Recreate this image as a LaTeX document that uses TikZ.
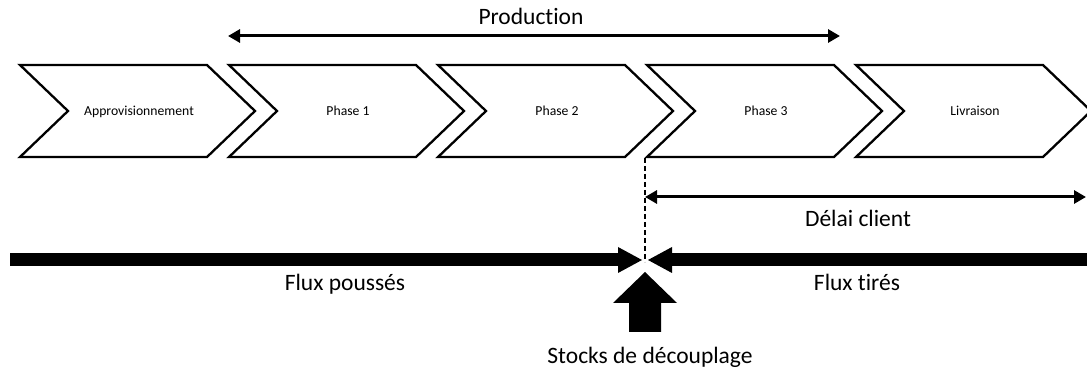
\documentclass[tikz,border=0pt]{standalone}
\usepackage{fontspec}
\setmainfont{Carlito}[RawFeature={-liga;-clig;-dlig;-calt}]
\usetikzlibrary{arrows.meta}
% keep "t" and "i" as separate glyphs
\newcommand{\tisep}{t\kern0pt i}
\begin{document}
\begin{tikzpicture}[x=1pt,y=-1pt,
  chev/.style={draw=black,line width=2.3pt,fill=white,line join=miter},
  steplabel/.style={font=\fontsize{13.7}{16}\selectfont,anchor=base,inner sep=0pt},
  biglabel/.style={font=\fontsize{23.5}{28}\selectfont,anchor=base,inner sep=0pt},
  span/.style={line width=3pt,{Triangle[length=12pt,width=13pt]}-{Triangle[length=12pt,width=13pt]}},
  heavy/.style={fill=black,draw=none},
]
\useasboundingbox (0,0) rectangle (1087,371);
\clip (0,0) rectangle (1087,371);

% process chevrons
\foreach \i/\l/\t in {1/20/Approvisionnement,2/229/Phase 1,3/438/Phase 2,4/647/Phase 3,5/856/Livraison}{
  \draw[chev] (\l,65) -- ++(187,0) -- ++(48,46) -- ++(-48,46) -- ++(-187,0) -- ++(48,-46) -- cycle;
  \node[steplabel] (s\i) at (\l+119,116) {\t};
}

% production span
\coordinate (pL) at (228,36);
\coordinate (pR) at (840,36);
\draw[span] (pL) -- (pR);
\node[biglabel] (prod) at (531,25) {Produc\tisep on};

% decoupling point
\coordinate (dTop) at (645,158);
\coordinate (dBot) at (645,262);
\draw[line width=1.4pt,dash pattern=on 5pt off 3pt] (dTop) -- (dBot);

% customer lead time
\coordinate (cL) at (645,197);
\coordinate (cR) at (1086,197);
\draw[span] (cL) -- (cR);
\node[biglabel] (delai) at (858,227) {Délai client};

% push and pull flows
\coordinate (pushTip) at (642,260);
\coordinate (pullTip) at (648,260);
\fill[heavy] (10,253.5) rectangle (620,266.5);
\fill[heavy] (pushTip) -- ++(-24,-13) -- ++(0,26) -- cycle;
\fill[heavy] (670,253.5) rectangle (1095,266.5);
\fill[heavy] (pullTip) -- ++(24,-13) -- ++(0,26) -- cycle;
\node[biglabel] (push) at (345,291) {Flux poussés};
\node[biglabel] (pull) at (857,291) {Flux \tisep rés};

% decoupling stock arrow
\coordinate (stockTip) at (645,272);
\fill[heavy] (stockTip) -- (677,303) -- (661,303) -- (661,332) -- (629,332) -- (629,303) -- (613,303) -- cycle;
\node[biglabel] (stock) at (650,363) {Stocks de découplage};
\end{tikzpicture}
\end{document}
